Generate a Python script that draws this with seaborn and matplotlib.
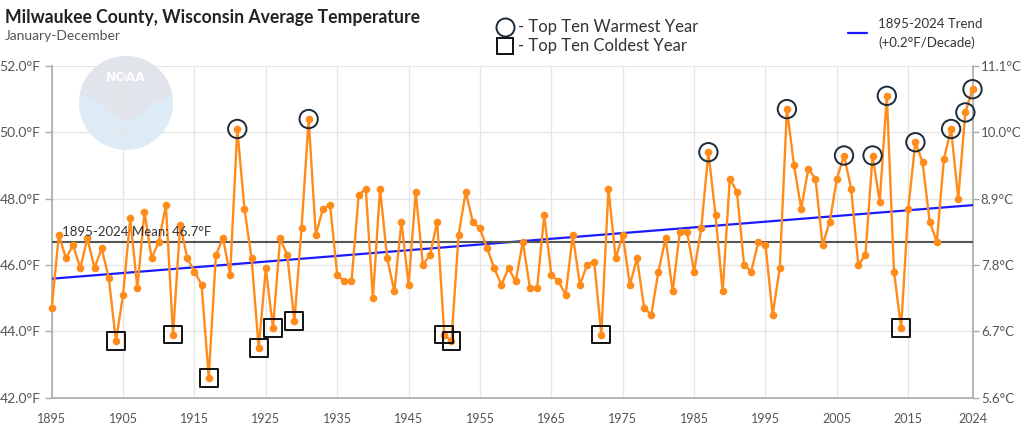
import numpy as np
import pandas as pd
import matplotlib
matplotlib.use("Agg")
import matplotlib.pyplot as plt
import matplotlib.lines as mlines
import matplotlib.patches as mpatches
import seaborn as sns

years = list(range(1895, 2025))
temps_f = [
    44.7, 46.9, 46.2, 46.6, 45.9, 46.8, 45.9, 46.5, 45.6, 43.7,   # 1895-1904
    45.1, 47.4, 45.3, 47.6, 46.2, 46.7, 47.8, 43.9, 47.2, 46.2,   # 1905-1914
    45.8, 45.4, 42.6, 46.3, 46.8, 45.7, 50.1, 47.7, 46.2, 43.5,   # 1915-1924
    45.9, 44.1, 46.8, 46.3, 44.3, 47.1, 50.4, 46.9, 47.7, 47.8,   # 1925-1934
    45.7, 45.5, 45.5, 48.1, 48.3, 45.0, 48.3, 46.2, 45.2, 47.3,   # 1935-1944
    45.4, 48.2, 46.0, 46.3, 47.3, 43.9, 43.7, 46.9, 48.2, 47.3,   # 1945-1954
    47.1, 46.5, 45.9, 45.4, 45.9, 45.5, 46.7, 45.3, 45.3, 47.5,   # 1955-1964
    45.7, 45.5, 45.1, 46.9, 45.4, 46.0, 46.1, 43.9, 48.3, 46.2,   # 1965-1974
    46.9, 45.4, 46.2, 44.7, 44.5, 45.8, 46.8, 45.2, 47.0, 47.0,   # 1975-1984
    45.8, 47.1, 49.4, 47.5, 45.2, 48.6, 48.2, 46.0, 45.8, 46.7,   # 1985-1994
    46.6, 44.5, 45.9, 50.7, 49.0, 47.7, 48.9, 48.6, 46.6, 47.3,   # 1995-2004
    48.6, 49.3, 48.3, 46.0, 46.3, 49.3, 47.9, 51.1, 45.8, 44.1,   # 2005-2014
    47.7, 49.7, 49.1, 47.3, 46.7, 49.2, 50.1, 48.0, 50.6, 51.3,   # 2015-2024
]
warmest_years = [1921, 1931, 1987, 1998, 2006, 2010, 2012, 2016, 2021, 2023, 2024]
coldest_years = [1904, 1912, 1917, 1924, 1926, 1929, 1950, 1951, 1972, 2014]
mean_value = 46.7
x_ticks = [1895, 1905, 1915, 1925, 1935, 1945, 1955, 1965, 1975, 1985, 1995, 2005, 2015, 2024]
y_ticks_f = [42, 44, 46, 48, 50, 52]

df = pd.DataFrame({"year": years, "temp": temps_f})
warm = df[df["year"].isin(warmest_years)]
cold = df[df["year"].isin(coldest_years)]

sns.set_theme(style="white")
plt.rcParams["font.family"] = ["Lato", "DejaVu Sans"]

fig = plt.figure(figsize=(10.24, 4.32), dpi=100)
ax = fig.add_axes([51.7 / 1024, 1 - 397.5 / 432, (972.5 - 51.7) / 1024, (397.5 - 66) / 432])

# NOAA watermark
wm = fig.add_axes([(126 - 47) / 1024, 1 - (103 + 47) / 432, 94 / 1024, 94 / 432], zorder=0)
wm.set_xlim(-1, 1); wm.set_ylim(-1, 1); wm.axis("off")
circ = mpatches.Ellipse((0, 0), 2, 2, color="#dcebf6", lw=0)
wm.add_patch(circ)
top = mpatches.Polygon([[-1, 1], [1, 1], [1, 0.2], [0.6, 0.0], [0.3, -0.25], [0.0, -0.4],
                        [-0.3, -0.25], [-0.6, 0.05], [-1, 0.2]],
                       closed=True, color="#e2e4ec", lw=0)
wm.add_patch(top)
top.set_clip_path(circ)
wm.text(0, 0.55, "NOAA", ha="center", va="center", color="white", fontsize=9,
        fontweight="bold", family=["DejaVu Sans"])
ax.patch.set_alpha(0)
ax.set_zorder(2)

ax.grid(True, color="#e6e6e6", lw=1)
ax.set_axisbelow(True)

# trend line (least squares from the data)
coef = np.polyfit(df["year"], df["temp"], 1)
trend = np.polyval(coef, np.array([1895, 2024]))
ax.plot([1895, 2024], trend, color="#1a1aff", lw=1.6, zorder=3)
ax.axhline(mean_value, color="#555555", lw=1.5, zorder=3)

sns.lineplot(data=df, x="year", y="temp", ax=ax, color="#ff8c1a", lw=1.7,
             marker="o", markersize=5.5, markeredgewidth=0, zorder=4, clip_on=False)
sns.scatterplot(data=warm, x="year", y="temp", ax=ax, marker="o", s=175,
                facecolors="none", edgecolor="#1c2b3a", linewidth=1.4, zorder=5, clip_on=False)
sns.scatterplot(data=cold, x="year", y="temp", ax=ax, marker="s", s=165,
                facecolors="none", edgecolor="#111111", linewidth=1.4, zorder=5, clip_on=False)

ax.text(1896.5, mean_value + 0.12, "1895-2024 Mean: %.1f°F" % mean_value, fontsize=9.5,
        color="#333333", va="bottom", ha="left", zorder=6)

ax.set_xlim(1895, 2024)
ax.set_ylim(42, 52)
ax.set_xticks(x_ticks)
ax.set_xticklabels([str(t) for t in x_ticks], fontsize=9, color="#555555")
ax.set_yticks(y_ticks_f)
ax.set_yticklabels(["%.1f°F" % t for t in y_ticks_f], fontsize=10, color="#555555")
ax.set_xlabel(""); ax.set_ylabel("")
for s in ["left", "right", "bottom"]:
    ax.spines[s].set_visible(True)
    ax.spines[s].set_color("#aaaaaa")
    ax.spines[s].set_linewidth(1.2)
ax.spines["top"].set_visible(False)
ax.tick_params(axis="both", length=5, width=1, color="#aaaaaa", pad=3)
ax.tick_params(axis="x", pad=6)

ax2 = ax.twinx()
ax2.set_ylim(42, 52)
ax2.set_yticks(y_ticks_f)
ax2.set_yticklabels(["%.1f°C" % ((t - 32) * 5 / 9) for t in y_ticks_f], fontsize=9.5, color="#555555")
for s in ax2.spines.values():
    s.set_visible(False)
ax2.tick_params(axis="y", length=4, width=1, color="#aaaaaa", pad=2)
ax2.grid(False)

# titles
fig.text(5 / 1024, 1 - 17 / 432, "Milwaukee County, Wisconsin Average Temperature",
         fontsize=12.7, fontweight="bold", color="#222222", va="center", ha="left")
fig.text(5 / 1024, 1 - 36 / 432, "January-December", fontsize=10, color="#555555",
         va="center", ha="left")

# legend
fig.add_artist(mlines.Line2D([505 / 1024], [1 - 27 / 432], marker="o", ms=13, mfc="none",
                             mec="#1c2b3a", mew=1.4, transform=fig.transFigure))
fig.add_artist(mlines.Line2D([505 / 1024], [1 - 46 / 432], marker="s", ms=12, mfc="none",
                             mec="#111111", mew=1.4, transform=fig.transFigure))
fig.text(518 / 1024, 1 - 27 / 432, "- Top Ten Warmest Year", fontsize=12, color="#333333",
         va="center", ha="left")
fig.text(518 / 1024, 1 - 46 / 432, "- Top Ten Coldest Year", fontsize=12, color="#333333",
         va="center", ha="left")
fig.add_artist(mlines.Line2D([848 / 1024, 867 / 1024], [1 - 33 / 432, 1 - 33 / 432],
                             color="#1a1aff", lw=1.6, transform=fig.transFigure))
fig.text(878 / 1024, 1 - 24 / 432, "1895-2024 Trend", fontsize=9.5, color="#333333",
         va="center", ha="left")
fig.text(878 / 1024, 1 - 43 / 432, "(+%.1f°F/Decade)" % (coef[0] * 10), fontsize=9.5,
         color="#333333", va="center", ha="left")

fig.savefig("out.png", dpi=100)
